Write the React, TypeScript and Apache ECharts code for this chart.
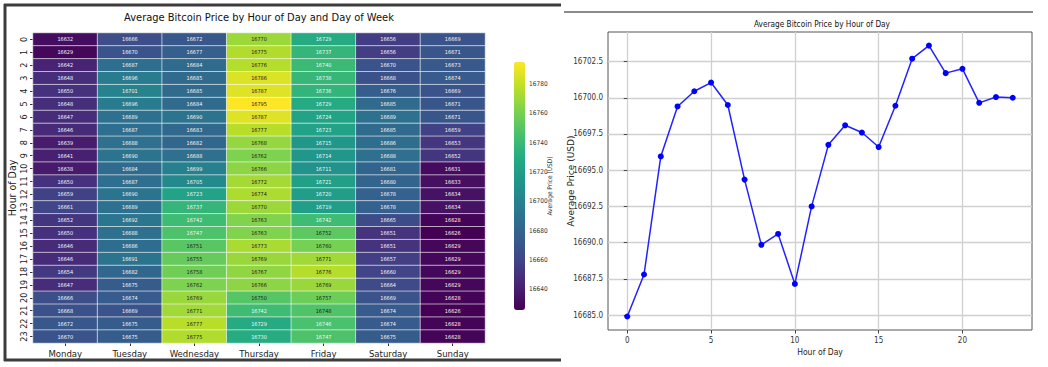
import React, { useEffect, useRef } from "react";
import * as echarts from "echarts";

const days = ["Monday", "Tuesday", "Wednesday", "Thursday", "Friday", "Saturday", "Sunday"];
const hours = Array.from({ length: 24 }, (_, i) => String(i));

// rows = hour 0..23, columns = Monday..Sunday
const heatRows: number[][] = [
  [16632, 16666, 16672, 16770, 16729, 16656, 16669],
  [16629, 16670, 16677, 16775, 16737, 16656, 16671],
  [16642, 16687, 16684, 16776, 16740, 16670, 16673],
  [16648, 16696, 16685, 16786, 16738, 16668, 16674],
  [16650, 16701, 16685, 16787, 16736, 16676, 16669],
  [16648, 16696, 16684, 16795, 16729, 16685, 16671],
  [16647, 16689, 16690, 16787, 16724, 16689, 16671],
  [16646, 16687, 16683, 16777, 16723, 16685, 16659],
  [16639, 16688, 16682, 16768, 16715, 16686, 16653],
  [16641, 16690, 16688, 16762, 16714, 16688, 16652],
  [16638, 16684, 16699, 16766, 16711, 16681, 16631],
  [16650, 16687, 16705, 16772, 16721, 16680, 16633],
  [16659, 16690, 16723, 16774, 16720, 16678, 16634],
  [16661, 16689, 16737, 16770, 16719, 16678, 16634],
  [16652, 16692, 16742, 16763, 16742, 16665, 16628],
  [16650, 16688, 16747, 16763, 16752, 16651, 16626],
  [16646, 16686, 16751, 16773, 16760, 16651, 16629],
  [16646, 16691, 16755, 16769, 16771, 16657, 16629],
  [16654, 16682, 16758, 16767, 16776, 16660, 16629],
  [16647, 16675, 16762, 16766, 16769, 16664, 16629],
  [16666, 16674, 16769, 16750, 16757, 16669, 16628],
  [16668, 16669, 16771, 16742, 16748, 16674, 16626],
  [16672, 16675, 16777, 16729, 16746, 16674, 16628],
  [16670, 16675, 16775, 16730, 16747, 16675, 16628],
];

const colorbarTicks = [16640, 16660, 16680, 16700, 16720, 16740, 16760, 16780];

const hourNums = Array.from({ length: 24 }, (_, i) => i);
const hourlyAvg = [
  16684.9, 16687.8, 16695.95, 16699.4, 16700.45, 16701.05, 16699.5, 16694.35,
  16689.85, 16690.6, 16687.15, 16692.5, 16696.75, 16698.1, 16697.6, 16696.6,
  16699.45, 16702.7, 16703.6, 16701.7, 16702.0, 16699.65, 16700.05, 16700.0,
];
const lineXTicks = [0, 5, 10, 15, 20];
const lineYTicks = [16685.0, 16687.5, 16690.0, 16692.5, 16695.0, 16697.5, 16700.0, 16702.5];

const viridis = [
  "#440154", "#482475", "#414487", "#355f8d", "#2a788e", "#21918c",
  "#22a884", "#44bf70", "#7ad151", "#bddf26", "#fde725",
];

const F = "'DejaVu Sans Condensed', 'DejaVu Sans', sans-serif";
const FR = "'DejaVu Sans', sans-serif";

export default function App() {
  const ref = useRef<HTMLDivElement>(null);
  useEffect(() => {
    if (!ref.current) return;
    const chart = echarts.init(ref.current, null, { renderer: "svg" });
    const vmin = 16626;
    const vmax = 16795;
    const heatData: any[] = [];
    heatRows.forEach((row, h) =>
      row.forEach((v, d) => {
        heatData.push({
          value: [d, h, v],
          label: { color: v >= 16748 ? "#222" : "#f4f4f4" },
        });
      })
    );
    const option: any = {
      animation: false,
      backgroundColor: "#ffffff",
      grid: [
        { left: 33, top: 33, width: 452, height: 310, outerBoundsMode: "none", containLabel: false },
        { left: 608, top: 32, width: 424, height: 298, show: true, borderColor: "#555", borderWidth: 1, backgroundColor: "transparent", outerBoundsMode: "none", containLabel: false },
        { left: 514, top: 62, width: 11, height: 248, outerBoundsMode: "none", containLabel: false },
      ],
      xAxis: [
        {
          gridIndex: 0,
          type: "category",
          data: days,
          name: "Day of Week",
          nameLocation: "middle",
          nameGap: 19,
          nameMoveOverlap: false,
          nameTextStyle: { fontFamily: F, fontSize: 10, color: "#222" },
          axisLine: { show: false },
          axisTick: { show: true, alignWithLabel: true, length: 3, lineStyle: { color: "#333" } },
          axisLabel: { fontFamily: F, fontSize: 9.5, color: "#222", margin: 5 },
          splitLine: { show: false },
        },
        {
          gridIndex: 1,
          type: "value",
          min: -1.15,
          max: 24.15,
          name: "Hour of Day",
          nameLocation: "middle",
          nameGap: 17,
          nameMoveOverlap: false,
          nameTextStyle: { fontFamily: F, fontSize: 8.5, color: "#222" },
          axisLine: { show: false },
          axisTick: { show: true, length: 3.5, lineStyle: { color: "#444" }, customValues: lineXTicks },
          axisLabel: { fontFamily: F, fontSize: 8, color: "#333", margin: 6, customValues: lineXTicks, formatter: (v: number) => String(v) },
          splitLine: { show: true, lineStyle: { color: "#d0d0d0", width: 1.3 }, customValues: lineXTicks },
        },
        { gridIndex: 2, type: "value", show: false },
      ],
      yAxis: [
        {
          gridIndex: 0,
          type: "category",
          data: hours,
          inverse: true,
          name: "Hour of Day",
          nameLocation: "middle",
          nameGap: 16,
          nameRotate: 90,
          nameMoveOverlap: false,
          nameTextStyle: { fontFamily: F, fontSize: 10.5, color: "#222" },
          axisLine: { show: false },
          axisTick: { show: true, alignWithLabel: true, interval: 0, length: 3, lineStyle: { color: "#333" } },
          axisLabel: { fontFamily: F, fontSize: 9, color: "#222", rotate: 90, margin: 5, interval: 0 },
          splitLine: { show: false },
        },
        {
          gridIndex: 1,
          type: "value",
          min: 16683.97,
          max: 16704.54,
          name: "Average Price (USD)",
          nameLocation: "middle",
          nameGap: 33,
          nameRotate: 90,
          nameMoveOverlap: false,
          nameTextStyle: { fontFamily: FR, fontSize: 9, color: "#222" },
          axisLine: { show: false },
          axisTick: { show: true, length: 3.5, lineStyle: { color: "#444" }, customValues: lineYTicks },
          axisLabel: { fontFamily: F, fontSize: 8, color: "#333", margin: 5, customValues: lineYTicks, formatter: (v: number) => v.toFixed(1) },
          splitLine: { show: true, lineStyle: { color: "#d0d0d0", width: 1.3 }, customValues: lineYTicks },
        },
        {
          gridIndex: 2,
          type: "value",
          position: "right",
          min: vmin,
          max: vmax,
          name: "Average Price (USD)",
          nameLocation: "middle",
          nameGap: 21,
          nameRotate: 90,
          nameMoveOverlap: false,
          nameTextStyle: { fontFamily: F, fontSize: 6.5, color: "#333" },
          axisLine: { show: false },
          axisTick: { show: true, length: 3, lineStyle: { color: "#444" }, customValues: colorbarTicks },
          axisLabel: { fontFamily: F, fontSize: 6.5, color: "#333", margin: 4, customValues: colorbarTicks, formatter: (v: number) => String(v) },
          splitLine: { show: false },
        },
      ],
      visualMap: {
        type: "continuous",
        seriesIndex: 0,
        min: vmin,
        max: vmax,
        calculable: false,
        hoverLink: false,
        orient: "vertical",
        left: 514,
        top: 62,
        padding: 0,
        itemWidth: 11,
        itemHeight: 248,
        text: null,
        inRange: { color: viridis },
      },
      series: [
        {
          type: "heatmap",
          xAxisIndex: 0,
          yAxisIndex: 0,
          data: heatData,
          itemStyle: { borderColor: "rgba(255,255,255,0.75)", borderWidth: 0.8 },
          label: {
            show: true,
            fontFamily: F,
            fontSize: 5.5,
            formatter: (p: any) => String(p.value[2]),
          },
          emphasis: { disabled: true },
        },
        {
          type: "line",
          xAxisIndex: 1,
          yAxisIndex: 1,
          data: hourNums.map((h, i) => [h, hourlyAvg[i]]),
          symbol: "circle",
          symbolSize: 6,
          lineStyle: { color: "#2222ff", width: 1.5 },
          itemStyle: { color: "#0000ff" },
          z: 5,
        },
      ],
      graphic: [
        {
          type: "text",
          x: 259,
          y: 17,
          style: { text: "Average Bitcoin Price by Hour of Day and Day of Week", fontFamily: F, fontSize: 11, fill: "#111", align: "center", verticalAlign: "middle" },
        },
        {
          type: "text",
          x: 822,
          y: 24,
          style: { text: "Average Bitcoin Price by Hour of Day", fontFamily: F, fontSize: 8.2, fill: "#111", align: "center", verticalAlign: "middle" },
        },
        { type: "line", shape: { x1: 4, y1: 5, x2: 561, y2: 5 }, style: { stroke: "#3c3c3c", lineWidth: 3 }, z: 100 },
        { type: "line", shape: { x1: 5, y1: 4, x2: 5, y2: 361 }, style: { stroke: "#3c3c3c", lineWidth: 3 }, z: 100 },
        { type: "line", shape: { x1: 4, y1: 360, x2: 561, y2: 360 }, style: { stroke: "#3c3c3c", lineWidth: 3 }, z: 100 },
        { type: "rect", shape: { x: 0, y: 362, width: 562, height: 10 }, style: { fill: "#ffffff" }, z: 99 },
        { type: "line", shape: { x1: 564, y1: 12, x2: 1033, y2: 12 }, style: { stroke: "#8a8a8a", lineWidth: 2 }, z: 100 },
      ],
    };
    chart.setOption(option);
    return () => chart.dispose();
  }, []);
  return (
    <div
      ref={ref}
      style={{ position: "fixed", left: 0, top: 0, width: 1048, height: 367, background: "#fff" }}
    />
  );
}
